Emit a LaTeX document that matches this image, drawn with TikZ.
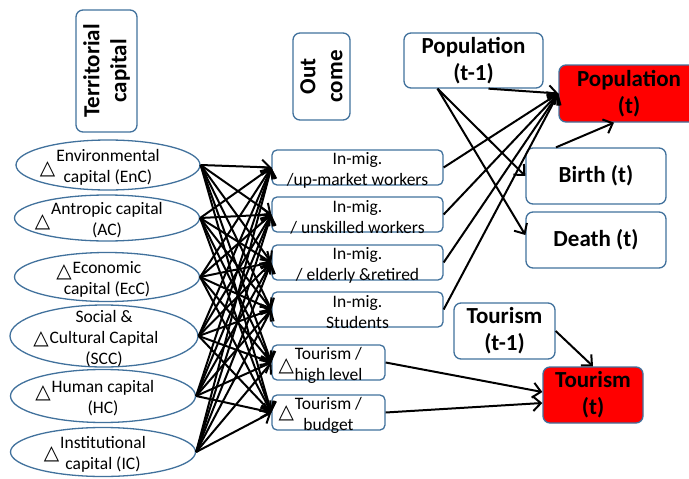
\documentclass[tikz,border=0pt]{standalone}
\usepackage{fontspec}
\setmainfont{Carlito}
\newfontfamily\trifont{DejaVu Sans}
\usetikzlibrary{shapes.geometric,arrows.meta}
\definecolor{boxblue}{RGB}{65,113,156}
\newcommand{\dtri}[1]{\llap{\smash{\raisebox{#1}{\fontsize{20}{20}\trifont\bfseries △}}\hspace{1pt}}}
\begin{document}
\begin{tikzpicture}[x=1pt,y=-1pt, >={Straight Barb[length=8pt,width=15pt]},
  capital/.style={ellipse, draw=boxblue, line width=1.3pt, inner sep=0pt},
  txt/.style={align=center, inner sep=0pt, yshift=-2.5pt, font=\fontsize{17.5}{21}\selectfont},
  outbox/.style={draw=boxblue, line width=1.3pt, rounded corners=5pt, inner sep=0pt},
  bigbox/.style={draw=boxblue, line width=1.3pt, rounded corners=7pt, inner sep=0pt,
    align=center, font=\fontsize{23}{27}\selectfont\bfseries},
  link/.style={->, line width=2pt}]
\useasboundingbox (0,0) rectangle (689,479);
\node[bigbox, rotate=90, minimum width=122pt, minimum height=61pt] (terr) at (106.5,71) {Territorial\\capital};
\node[bigbox, rotate=90, minimum width=87pt, minimum height=57pt] (outc) at (321.5,76.5) {Out\\come};
\node[capital, minimum width=184pt, minimum height=50pt, label={[txt]center:{\dtri{-12.5pt}Environmental\\capital (EnC)}}] (enc) at (108,165) {};
\node[capital, minimum width=185pt, minimum height=46pt, label={[txt]center:{\dtri{-12.5pt}Antropic capital\\(AC)}}] (ac) at (107,218) {};
\node[capital, minimum width=185pt, minimum height=49pt, label={[txt]center:{\dtri{-4pt}Economic\\capital (EcC)}}] (ecc) at (107,277) {};
\node[capital, minimum width=188pt, minimum height=62pt, label={[txt]center:{Social \&\\\dtri{-1pt}Cultural Capital\\(SCC)}}] (scc) at (104,336) {};
\node[capital, minimum width=185pt, minimum height=53pt, label={[txt]center:{\dtri{-6pt}Human capital\\(HC)}}] (hc) at (103,396) {};
\node[capital, minimum width=185pt, minimum height=49pt, label={[txt]center:{\dtri{-11pt}Institutional\\capital (IC)}}] (ic) at (103,452) {};
\node[outbox, minimum width=171pt, minimum height=35pt, label={[txt]center:{In-mig.\\/up-market workers}}] (o1) at (357.5,167.5) {};
\node[outbox, minimum width=171pt, minimum height=35pt, label={[txt]center:{In-mig.\\/ unskilled workers}}] (o2) at (357.5,214.5) {};
\node[outbox, minimum width=171pt, minimum height=35pt, label={[txt]center:{In-mig.\\/ elderly \&retired}}] (o3) at (357.5,262.5) {};
\node[outbox, minimum width=171pt, minimum height=35pt, label={[txt]center:{In-mig.\\Students}}] (o4) at (357.5,309.5) {};
\node[outbox, minimum width=113pt, minimum height=35pt, label={[txt]center:{\dtri{-12.5pt}Tourism /\\high level}}] (o5) at (328.5,362.5) {};
\node[outbox, minimum width=113pt, minimum height=35pt, label={[txt]center:{\dtri{-9.5pt}Tourism /\\budget}}] (o6) at (328.5,412.5) {};
\node[bigbox, minimum width=139pt, minimum height=55pt] (popm) at (473.5,60.5) {Population\\(t-1)};
\node[bigbox, fill=red, minimum width=140pt, minimum height=57pt] (popt) at (629,93.5) {Population\\(t)};
\node[bigbox, minimum width=140pt, minimum height=56pt] (birth) at (596,176) {Birth (t)};
\node[bigbox, minimum width=140pt, minimum height=56pt] (death) at (596,240) {Death (t)};
\node[bigbox, minimum width=101pt, minimum height=56pt] (tourm) at (504.5,331) {Tourism\\(t-1)};
\node[bigbox, fill=red, minimum width=100pt, minimum height=56pt] (tourt) at (593,395) {Tourism\\(t)};
\foreach \c in {enc,ac,ecc,scc,hc,ic}
  \foreach \o in {o1,o2,o3,o4,o5,o6}
    \draw[link] (\c.east) -- (\o.west);
\foreach \o in {o1,o2,o3,o4}
  \draw[link] (\o.east) -- (popt.west);
\draw[link] ([xshift=15pt]popm.south) -- (popt.west);
\draw[link] ([xshift=-36pt]popm.south) -- (birth.west);
\draw[link] ([xshift=-36pt]popm.south) -- ([yshift=5pt]death.west);
\draw[link] ([xshift=-40pt]birth.north) -- ([xshift=-15pt]popt.south);
\draw[link] (o5.east) -- ([yshift=3pt]tourt.west);
\draw[link] (o6.east) -- ([yshift=-8pt]tourt.west);
\draw[link] (tourm.east) -- (tourt.north);
\end{tikzpicture}
\end{document}
